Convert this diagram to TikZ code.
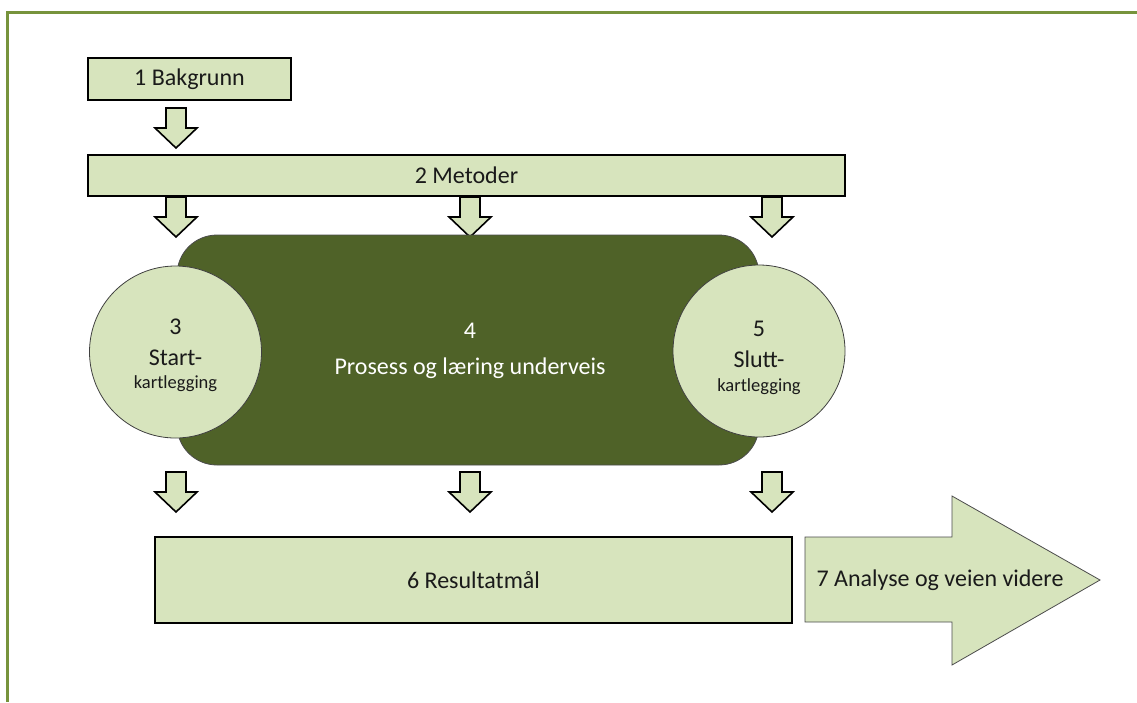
\documentclass[tikz,border=0pt]{standalone}
\usepackage{fontspec}
\setmainfont{Carlito}
\usetikzlibrary{shadows}
\definecolor{olivelight}{HTML}{D7E4BD}
\definecolor{olivedark}{HTML}{4F6228}
\definecolor{oliveframe}{HTML}{77933C}
\definecolor{textdark}{HTML}{1A1A1A}
\tikzset{
  big/.style={font=\fontsize{24}{28}\selectfont, text=textdark},
  small/.style={font=\fontsize{18.5}{22}\selectfont, text=textdark},
  stagebox/.style={draw=black, line width=2.2pt, fill=olivelight, inner sep=0pt,
    drop shadow={shadow xshift=1.2pt, shadow yshift=-1.2pt, fill=black!60, opacity=0.6}},
  arrowbody/.style={draw=black, line width=1.6pt, fill=olivelight, line join=miter},
  pics/downarrow/.style={code={
    \draw[arrowbody] (-10,-20) -- (10,-20) -- (10,0) -- (21,0) -- (0,20)
      -- (-21,0) -- (-10,0) -- cycle;}},
  phase/.style={circle, draw=black!75, line width=0.8pt, fill=olivelight,
    minimum size=172pt, inner sep=0pt},
  process/.style={rectangle, rounded corners=40pt, draw=black!70, line width=0.8pt,
    fill=olivedark, inner sep=0pt},
  frameline/.style={draw=oliveframe, line width=3pt},
}
\begin{document}
\begin{tikzpicture}[x=1pt,y=-1pt]
\useasboundingbox (0,0) rectangle (1137,702);
\fill[white] (0,0) rectangle (1137,702);
% page frame
\draw[frameline] (1137,12) -- (7,12) -- (7,702);

% 1 and 2
\node[stagebox, big, minimum width=203pt, minimum height=42pt] (b1) at (189.5,79) {1 Bakgrunn};
\pic (a1) at (176,128) {downarrow};
\node[stagebox, big, minimum width=757pt, minimum height=41pt] (b2) at (466.5,175.5) {2 Metoder};

% arrows into the process
\pic (a2l) at (176,217) {downarrow};
\pic (a2m) at (470,217) {downarrow};
\pic (a2r) at (772,217) {downarrow};

% 4 process band with 3 and 5 on its ends
\node[process, minimum width=582pt, minimum height=230pt] (p4) at (468,350) {};
\node[phase] (c3) at (175.5,352) {};
\node[phase] (c5) at (759,351) {};

\node[big, anchor=base] (t3a) at (175.5,334) {3};
\node[big, anchor=base] (t3b) at (175.5,365) {Start-};
\node[small, anchor=base] (t3c) at (175.5,388) {kartlegging};

\node[big, anchor=base] (t5a) at (759,336) {5};
\node[big, anchor=base] (t5b) at (759,367) {Slutt-};
\node[small, anchor=base] (t5c) at (759,391) {kartlegging};

\node[big, text=white, anchor=base] (t4a) at (470,338) {4};
\node[big, text=white, anchor=base] (t4b) at (470,374) {Prosess og læring underveis};

% arrows out of the process
\pic (a3l) at (176,492) {downarrow};
\pic (a3m) at (470,492) {downarrow};
\pic (a3r) at (772,492) {downarrow};

% 6 and 7
\node[stagebox, big, minimum width=637pt, minimum height=86pt] (b6) at (473.5,580) {6 Resultatmål};
\draw[draw=black!70, line width=0.8pt, fill=olivelight]
  (805,537) -- (952,537) -- (952,496) -- (1100,580) -- (952,665) -- (952,622) -- (805,622) -- cycle;
\node[big] (t7) at (940,580) {7 Analyse og veien videre};
\end{tikzpicture}
\end{document}
